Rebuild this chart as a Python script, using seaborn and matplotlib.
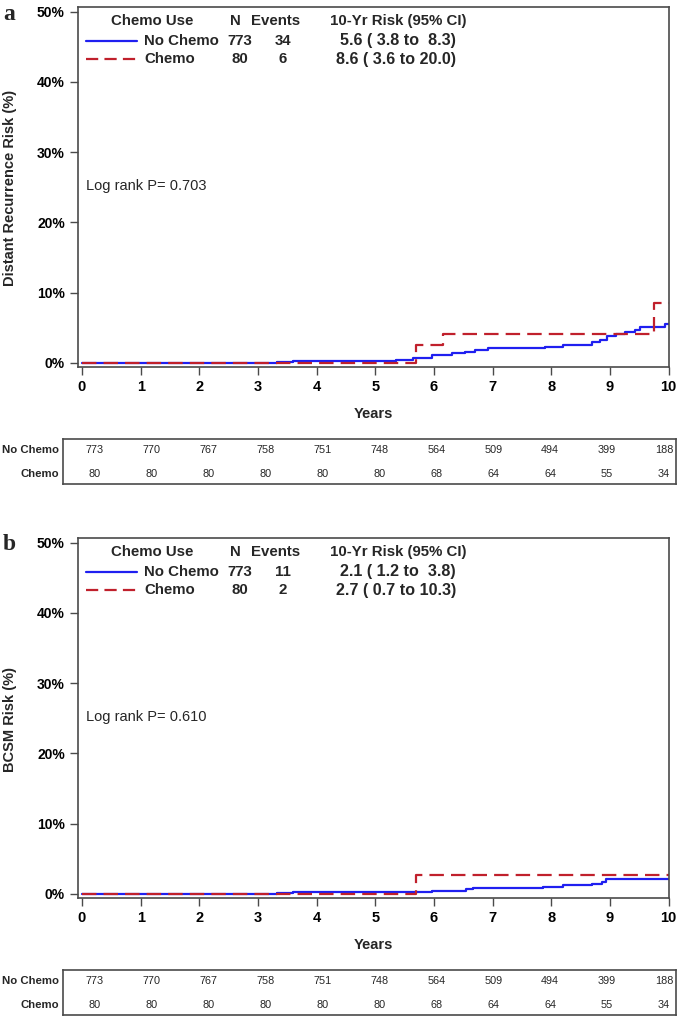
import numpy as np
import pandas as pd
import matplotlib
matplotlib.use("Agg")
import matplotlib.pyplot as plt
from matplotlib.lines import Line2D
from matplotlib import font_manager
import seaborn as sns

# ---------------- data ----------------
groups = ["No Chemo", "Chemo"]
x_ticks = list(range(0, 11))
y_ticks = [0, 10, 20, 30, 40, 50]
y_tick_labels = ["0%", "10%", "20%", "30%", "40%", "50%"]

# Panel a: distant recurrence (cumulative incidence, %)
a_nochemo_years = [0, 3.32, 3.60, 5.36, 5.65, 5.96, 6.30, 6.53, 6.70, 6.92, 7.89, 8.20,
                   8.70, 8.83, 8.94, 9.11, 9.25, 9.42, 9.51, 9.94, 10.0]
a_nochemo_risk = [0, 0.13, 0.26, 0.48, 0.71, 1.19, 1.43, 1.62, 1.90, 2.10, 2.33, 2.52,
                  2.95, 3.33, 3.80, 4.14, 4.38, 4.71, 5.10, 5.57, 5.57]
a_chemo_years = [0, 5.69, 6.16, 9.75, 10.0]
a_chemo_risk = [0, 2.6, 4.1, 8.6, 8.6]

# Panel b: BCSM
b_nochemo_years = [0, 3.32, 3.60, 5.96, 6.55, 6.67, 7.86, 8.19, 8.70, 8.86, 8.93, 10.0]
b_nochemo_risk = [0, 0.13, 0.26, 0.48, 0.67, 0.86, 1.05, 1.29, 1.48, 1.76, 2.10, 2.10]
b_chemo_years = [0, 5.70, 10.0]
b_chemo_risk = [0, 2.7, 2.7]

# numbers at risk
a_atrisk_nochemo = [773, 770, 767, 758, 751, 748, 564, 509, 494, 399, 188]
a_atrisk_chemo = [80, 80, 80, 80, 80, 80, 68, 64, 64, 55, 34]
b_atrisk_nochemo = [773, 770, 767, 758, 751, 748, 564, 509, 494, 399, 188]
b_atrisk_chemo = [80, 80, 80, 80, 80, 80, 68, 64, 64, 55, 34]

# legend tables
legend_header = ["Chemo Use", "N", "Events", "10-Yr Risk (95% CI)"]
a_legend_n = ["773", "80"]
a_legend_events = ["34", "6"]
a_legend_risk = ["5.6 ( 3.8 to  8.3)", "8.6 ( 3.6 to 20.0)"]
b_legend_n = ["773", "80"]
b_legend_events = ["11", "2"]
b_legend_risk = ["2.1 ( 1.2 to  3.8)", "2.7 ( 0.7 to 10.3)"]

a_logrank = "Log rank P= 0.703"
b_logrank = "Log rank P= 0.610"
a_ylabel = "Distant Recurrence Risk (%)"
b_ylabel = "BCSM Risk (%)"
x_label = "Years"
panel_letters = ["a", "b"]

# ---------------- style ----------------
sns.set_theme(style="white")
plt.rcParams["font.family"] = ["Liberation Sans", "DejaVu Sans"]

names = {f.name for f in font_manager.fontManager.ttflist}
narrow = "Liberation Sans Narrow" if "Liberation Sans Narrow" in names else "Liberation Sans"
narrow_num_size = 8.8 if narrow != "Liberation Sans" else 7.8
narrow_lab_size = 9.2 if narrow != "Liberation Sans" else 8.2

BLUE = "#1f1ff0"
RED = "#c0202c"
FRAME = "#4a4a4a"
W, H = 685, 1018
fig = plt.figure(figsize=(W / 100, H / 100), dpi=100)


def P(x, y):
    return (x / W, 1 - y / H)


def rect(left, top, right, bottom):
    return [left / W, 1 - bottom / H, (right - left) / W, (bottom - top) / H]


def panel(dy, nc_t, nc_r, c_t, c_r, ylabel, logrank, leg_n, leg_ev, leg_risk,
          ar_nc, ar_c, letter):
    ax = fig.add_axes(rect(78, 7 + dy, 669, 367 + dy))
    df = pd.concat([
        pd.DataFrame({"Years": nc_t, "Risk": nc_r, "Group": "No Chemo"}),
        pd.DataFrame({"Years": c_t, "Risk": c_r, "Group": "Chemo"}),
    ], ignore_index=True)
    sns.lineplot(data=df, x="Years", y="Risk", hue="Group", style="Group",
                 hue_order=groups, style_order=groups,
                 palette={"No Chemo": BLUE, "Chemo": RED},
                 dashes={"No Chemo": "", "Chemo": (6.5, 3.2)},
                 drawstyle="steps-post", estimator=None, sort=True,
                 linewidth=1.6, legend=False, ax=ax)
    ax.set_xlim(-0.068, 10.005)
    ax.set_ylim(-0.57, 50.67)
    ax.set_xticks(x_ticks)
    ax.set_xticklabels([str(v) for v in x_ticks], fontweight="bold", fontsize=10.5)
    ax.set_yticks(y_ticks)
    ax.set_yticklabels(y_tick_labels, fontweight="bold", fontsize=10)
    ax.tick_params(axis="both", which="both", direction="out", length=5.5,
                   width=1.0, color=FRAME, bottom=True, left=True,
                   top=False, right=False, pad=4, labelcolor="black")
    for s in ax.spines.values():
        s.set_color(FRAME)
        s.set_linewidth(1.2)
    ax.set_xlabel(x_label, fontweight="bold", fontsize=10.5)
    ax.xaxis.set_label_coords(0.5, -0.112)
    ax.set_ylabel(ylabel, fontweight="bold", fontsize=10.5, va="center", ha="center")
    ax.yaxis.set_label_coords(-0.115, 0.497)
    ax.grid(False)

    # log rank
    fig.text(*P(86, 186 + dy), logrank, fontsize=10.5, ha="left", va="center")

    # legend table
    hy = 20.7 + dy
    fig.text(*P(151.7, hy), legend_header[0], fontweight="bold", fontsize=10.8, ha="center", va="center")
    fig.text(*P(235.3, hy), legend_header[1], fontweight="bold", fontsize=10.8, ha="center", va="center")
    fig.text(*P(276.0, hy), legend_header[2], fontweight="bold", fontsize=10.8, ha="center", va="center")
    fig.text(*P(398.0, hy), legend_header[3], fontweight="bold", fontsize=10.8, ha="center", va="center")
    row_y = [40.7 + dy, 59.3 + dy]
    styles = [dict(color=BLUE, linestyle="-"), dict(color=RED, dashes=(5.5, 2.8))]
    for i, g in enumerate(groups):
        y = row_y[i]
        (x0, yy0), (x1, _) = P(86, y), P(137, y)
        fig.add_artist(Line2D([x0, x1], [yy0, yy0], transform=fig.transFigure,
                              linewidth=1.6, **styles[i]))
        fig.text(*P(144, y), g, fontweight="bold", fontsize=10.8, ha="left", va="center")
        fig.text(*P(240, y), leg_n[i], fontweight="bold", fontsize=10.8, ha="center", va="center")
        fig.text(*P(283, y), leg_ev[i], fontweight="bold", fontsize=10.8, ha="center", va="center")
        fig.text(*P(456, y), leg_risk[i], fontweight="bold", fontsize=11.6, ha="right", va="center")

    # panel letter
    fig.text(*P(3, 14 + dy), letter, fontsize=17, fontweight="bold",
             family=["Liberation Serif", "DejaVu Serif"], ha="left", va="center")

    # at-risk table
    tb = fig.add_axes(rect(63, 439 + dy, 676, 484 + dy))
    tb.set_xlim(-0.562, 10.21)
    tb.set_ylim(0, 1)
    tb.set_xticks([])
    tb.set_yticks([])
    for s in tb.spines.values():
        s.set_color(FRAME)
        s.set_linewidth(1.2)
    for xv, n in zip(x_ticks, ar_nc):
        tb.text(xv, 0.756, str(n), ha="center", va="center",
                family=[narrow, "DejaVu Sans"], fontsize=narrow_num_size)
    for xv, n in zip(x_ticks, ar_c):
        tb.text(xv, 0.222, str(n), ha="center", va="center",
                family=[narrow, "DejaVu Sans"], fontsize=narrow_num_size)
    fig.text(*P(59, 450 + dy), groups[0], ha="right", va="center", fontweight="bold",
             family=[narrow, "DejaVu Sans"], fontsize=narrow_lab_size)
    fig.text(*P(59, 474 + dy), groups[1], ha="right", va="center", fontweight="bold",
             family=[narrow, "DejaVu Sans"], fontsize=narrow_lab_size)
    return ax


panel(0, a_nochemo_years, a_nochemo_risk, a_chemo_years, a_chemo_risk, a_ylabel,
      a_logrank, a_legend_n, a_legend_events, a_legend_risk,
      a_atrisk_nochemo, a_atrisk_chemo, panel_letters[0])
panel(531, b_nochemo_years, b_nochemo_risk, b_chemo_years, b_chemo_risk, b_ylabel,
      b_logrank, b_legend_n, b_legend_events, b_legend_risk,
      b_atrisk_nochemo, b_atrisk_chemo, panel_letters[1])

fig.savefig("out.png", dpi=100)
